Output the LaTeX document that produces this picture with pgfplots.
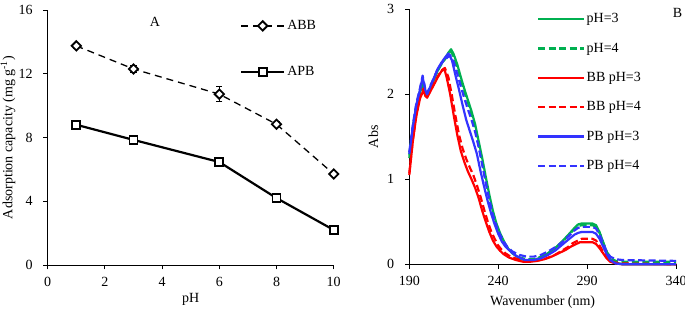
\documentclass[border=0pt]{standalone}
\usepackage{fontspec}
\setmainfont{Liberation Serif}
\usepackage{pgfplots}
\pgfplotsset{compat=1.18}
\definecolor{cgreen}{RGB}{0,176,80}
\definecolor{cred}{RGB}{255,0,0}
\definecolor{cblue}{RGB}{51,51,255}
\newcommand{\fs}{\fontsize{14bp}{16bp}\selectfont}
\pgfplotsset{
  /pgf/number format/assume math mode=true,
  myaxis/.style={
    scale only axis,
    axis x line*=bottom, axis y line*=left,
    tick align=outside, major tick length=4.3bp,
    axis line style={line width=0.9bp, black},
    tick style={line width=0.9bp, black},
    tick label style={font=\fs},
    label style={font=\fs},
    yticklabel style={xshift=-6bp},
    xticklabel style={yshift=-3bp},
    legend cell align=left,
    clip=false,
  },
}
\begin{document}
\fs
\begin{tikzpicture}
\useasboundingbox (0,0) rectangle (685bp,311bp);
% ---------------- Panel A ----------------
\begin{axis}[myaxis,
  at={(47.7bp,46bp)}, anchor=south west,
  width=286bp, height=255bp,
  xmin=0, xmax=10, ymin=0, ymax=16,
  xtick={0,2,4,6,8,10}, ytick={0,4,8,12,16},
  xlabel={pH},
  xlabel style={yshift=3bp},
  ylabel={Adsorption capacity (mg g\textsuperscript{-1})},
  every axis y label/.style={at={(axis description cs:-0.1388,0.5)}, anchor=center, rotate=90},
  legend style={at={(0.672,1)}, anchor=north west, yshift=-10bp,
    draw=none, fill=none, inner sep=0pt, row sep=35bp, font=\fs,
    nodes={inner xsep=2bp, inner ysep=0bp}},
  legend image code/.code={\draw[mark repeat=2, mark phase=2, #1] plot coordinates {(0bp,0bp) (21.5bp,0bp) (43bp,0bp)};},
]
\addplot[black, line width=1.3bp, dash pattern=on 7bp off 5bp,
  mark=square*, mark size=3.3bp,
  mark options={solid, fill=white, line width=1.8bp, rotate=45},
  error bars/.cd, y dir=both, y explicit,
  error bar style={solid, line width=1bp, black},
  error mark options={rotate=90, mark size=3bp, line width=1bp}]
  table[x=x, y=y, y error=e] {
x y e
1 13.75 0.15
3 12.3 0.2
6 10.72 0.45
8 8.83 0.15
10 5.71 0.12
};
\addlegendentry{ABB}
\addplot[black, line width=2.2bp,
  mark=square*, mark size=4bp,
  mark options={solid, fill=white, line width=1.7bp},
  error bars/.cd, y dir=both, y explicit,
  error bar style={solid, line width=1bp, black},
  error mark options={rotate=90, mark size=3bp, line width=1bp}]
  table[x=x, y=y, y error=e] {
x y e
1 8.8 0.12
3 7.85 0.15
6 6.46 0.2
8 4.2 0.15
10 2.2 0.12
};
\addlegendentry{APB}
\node[font=\fs] at (axis cs:3.75,15.27) {A};
\end{axis}
% ---------------- Panel B ----------------
\begin{axis}[myaxis,
  at={(409.3bp,46.7bp)}, anchor=south west,
  width=266.7bp, height=255bp,
  xmin=190, xmax=340, ymin=0, ymax=3,
  xtick={190,240,290,340}, ytick={0,1,2,3},
  xlabel={Wavenumber (nm)},
  ylabel={Abs},
  every axis y label/.style={at={(axis description cs:-0.135,0.5)}, anchor=center, rotate=90},
  legend style={at={(0.478,1)}, anchor=north west, yshift=-4bp,
    draw=none, fill=none, inner sep=0pt, row sep=18bp, font=\fs,
    nodes={inner xsep=1.5bp, inner ysep=0bp}},
  legend image code/.code={\draw[#1] (0bp,0bp) -- (46bp,0bp);},
  every axis plot/.append style={line width=2.2bp, line join=round},
]
\addplot[cgreen] table {
190 1.25
192 1.6
194 1.85
196 2.02
197.5 2.12
199 2.02
200 1.98
202 2.08
204 2.18
206 2.28
208 2.36
210 2.42
212 2.49
213.5 2.53
215 2.47
217 2.35
219 2.2
221 2.06
223 1.93
225 1.8
227 1.65
229 1.45
231 1.25
233 1.03
235 0.82
237 0.63
239 0.48
241 0.37
243 0.28
245 0.2
248 0.13
252 0.07
256 0.04
260 0.05
264 0.08
268 0.13
272 0.19
276 0.27
280 0.36
283 0.43
285 0.47
287 0.48
293 0.48
295 0.46
297 0.38
299 0.26
301 0.14
303 0.06
306 0.02
310 0.0
340 0.0
};
\addlegendentry{pH=3}
\addplot[cgreen, dash pattern=on 7bp off 3.5bp] table {
190 1.28
192 1.62
194 1.87
196 2.04
197.5 2.14
199 2.03
200 1.99
202 2.09
204 2.19
206 2.28
208 2.35
210 2.41
212 2.47
213.5 2.5
215 2.44
217 2.32
219 2.17
221 2.03
223 1.9
225 1.76
227 1.6
229 1.4
231 1.2
233 0.98
235 0.78
237 0.6
239 0.46
241 0.35
243 0.27
245 0.2
248 0.13
252 0.08
256 0.06
260 0.06
264 0.09
268 0.13
272 0.19
276 0.26
280 0.35
283 0.42
285 0.45
287 0.46
293 0.46
295 0.44
297 0.37
299 0.26
301 0.15
303 0.08
306 0.04
310 0.03
340 0.03
};
\addlegendentry{pH=4}
\addplot[cred] table {
190 1.05
192 1.45
194 1.75
196 1.95
198 2.05
199 1.98
200 1.96
202 2.04
204 2.12
206 2.2
208 2.27
209.7 2.3
211 2.2
213 2.0
215 1.75
217 1.52
219 1.33
221 1.2
223 1.09
225 1.0
227 0.9
229 0.78
231 0.63
233 0.5
235 0.38
237 0.28
239 0.21
241 0.16
243 0.12
246 0.08
250 0.05
254 0.03
258 0.03
262 0.04
266 0.06
270 0.09
274 0.13
278 0.17
281 0.21
284 0.24
286 0.26
293 0.26
295 0.24
297 0.19
299 0.13
301 0.07
303 0.03
306 0.01
310 0.0
340 0.0
};
\addlegendentry{BB pH=3}
\addplot[cred, dash pattern=on 7bp off 3.5bp] table {
190 1.07
192 1.47
194 1.77
196 1.97
198 2.07
199 2.0
200 1.97
202 2.05
204 2.13
206 2.21
208 2.28
210 2.31
212 2.2
214 1.98
216 1.74
218 1.52
220 1.36
222 1.24
224 1.14
226 1.05
228 0.93
230 0.8
232 0.65
234 0.51
236 0.39
238 0.3
240 0.22
242 0.17
244 0.13
247 0.09
251 0.06
255 0.04
259 0.04
263 0.05
267 0.07
271 0.1
275 0.15
279 0.2
282 0.25
285 0.28
287 0.3
293 0.3
295 0.28
297 0.22
299 0.15
301 0.08
303 0.04
306 0.02
310 0.01
340 0.0
};
\addlegendentry{BB pH=4}
\addplot[cblue] table {
190 1.3
192 1.62
194 1.88
196 2.05
197.5 2.2
199 2.05
200 2.0
202 2.1
204 2.2
206 2.3
208 2.37
210 2.43
212 2.48
214 2.4
216 2.22
218 2.05
220 1.87
222 1.7
224 1.57
226 1.44
228 1.3
230 1.1
232 0.92
234 0.75
236 0.6
238 0.47
240 0.36
242 0.27
244 0.21
247 0.15
250 0.1
255 0.05
260 0.05
264 0.07
268 0.11
272 0.16
276 0.23
280 0.3
283 0.35
285 0.37
287 0.38
293 0.38
295 0.36
297 0.3
299 0.21
301 0.12
303 0.05
306 0.01
310 0.0
340 0.0
};
\addlegendentry{PB pH=3}
\addplot[cblue, dash pattern=on 7bp off 3.5bp] table {
190 1.32
192 1.64
194 1.9
196 2.07
197.5 2.22
199 2.06
200 2.01
202 2.11
204 2.2
206 2.3
208 2.36
210 2.41
213 2.46
215 2.38
217 2.24
219 2.09
221 1.95
223 1.82
225 1.7
227 1.56
229 1.38
231 1.17
233 0.96
235 0.76
237 0.58
239 0.45
241 0.35
243 0.27
245 0.21
248 0.15
252 0.11
256 0.09
260 0.09
264 0.11
268 0.15
272 0.2
276 0.26
280 0.34
283 0.4
285 0.43
287 0.44
293 0.44
295 0.42
297 0.35
299 0.25
301 0.15
303 0.09
306 0.06
310 0.05
340 0.04
};
\addlegendentry{PB pH=4}
\node[font=\fs] at (axis cs:340.8,2.96) {B};
\end{axis}
\end{tikzpicture}
\end{document}
